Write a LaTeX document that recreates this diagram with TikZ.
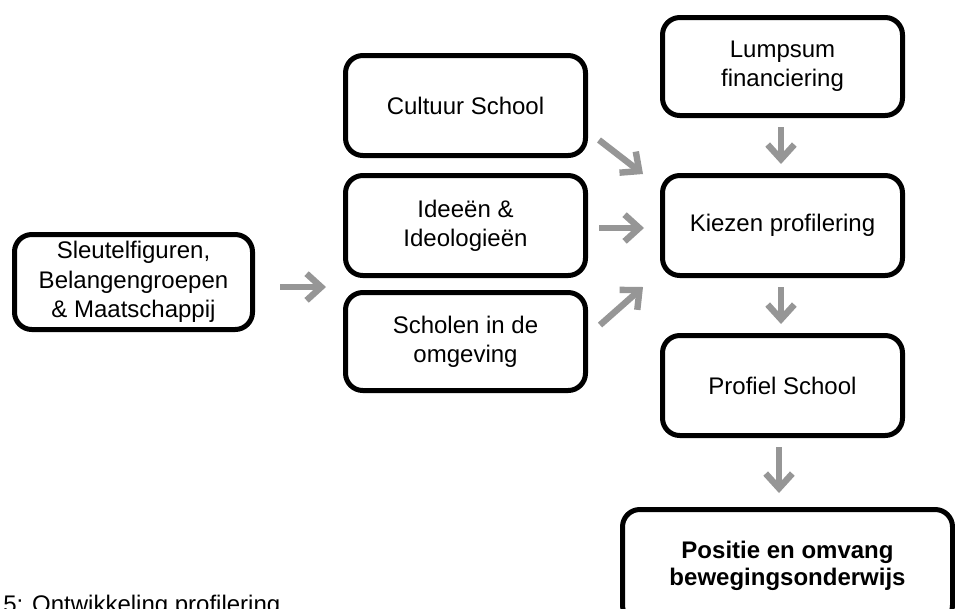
\documentclass[tikz,border=0pt]{standalone}
\usepackage{fontspec}
\setmainfont{Liberation Sans}
\usetikzlibrary{arrows.meta}
\definecolor{arrgray}{HTML}{969696}
\begin{document}
\begin{tikzpicture}[x=0.75pt,y=-0.75pt,
  box/.style={draw=black, line width=3.75pt, rounded corners=13pt, align=center,
    font=\fontsize{18pt}{22pt}\selectfont, inner sep=0pt, fill=white},
  flow/.style={draw=arrgray, line width=4.8pt,
    -{Straight Barb[length=11pt,width=20pt,line width=4.8pt]}}]
\useasboundingbox (0,0) rectangle (955,608);
\fill[white] (0,0) rectangle (955,608);
\node[box, minimum width=178.5pt, minimum height=71.25pt] (sleutel) at (133.5,282)
  {Sleutelfiguren,\\Belangengroepen\\\& Maatschappij};
\node[box, minimum width=180pt, minimum height=75pt] (cultuur) at (465.5,105.5) {Cultuur School};
\node[box, minimum width=180pt, minimum height=75pt] (ideeen) at (465.5,225.5) {Ideeën \&\\Ideologieën};
\node[box, minimum width=180pt, minimum height=73.5pt] (scholen) at (465.5,341.5) {Scholen in de\\omgeving};
\node[box, minimum width=180pt, minimum height=73.5pt] (lumpsum) at (782.5,66.5) {Lumpsum\\financiering};
\node[box, minimum width=180pt, minimum height=75pt] (kiezen) at (782.5,225.5) {Kiezen profilering};
\node[box, minimum width=180pt, minimum height=75pt] (profiel) at (782.5,385.5) {Profiel School};
\node[box, minimum width=247.5pt, minimum height=84.75pt, font=\fontsize{18pt}{20pt}\selectfont\bfseries] (positie) at (787.5,566)
  {Positie en omvang\\bewegingsonderwijs};
\node[anchor=base west, inner sep=0pt, font=\fontsize{18pt}{22pt}\selectfont] (caption) at (3,612)
  {5: Ontwikkeling profilering};
% arrow end points
\coordinate (s1) at (280,287);  \coordinate (e1) at (326,287);
\coordinate (s2) at (599,140);  \coordinate (e2) at (643,174);
\coordinate (s3) at (599,228);  \coordinate (e3) at (644,228);
\coordinate (s4) at (600,325);  \coordinate (e4) at (643,287);
\coordinate (s5) at (781,127);  \coordinate (e5) at (781,164);
\coordinate (s6) at (781,287);  \coordinate (e6) at (781,324);
\coordinate (s7) at (779,447);  \coordinate (e7) at (779,493);
\draw[flow] (s1) -- (e1);
\draw[flow] (s2) -- (e2);
\draw[flow] (s3) -- (e3);
\draw[flow] (s4) -- (e4);
\draw[flow] (s5) -- (e5);
\draw[flow] (s6) -- (e6);
\draw[flow] (s7) -- (e7);
\end{tikzpicture}
\end{document}
